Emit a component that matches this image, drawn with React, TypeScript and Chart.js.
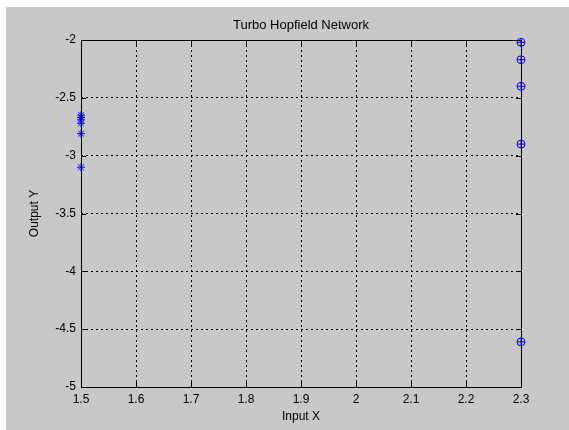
import React, { useEffect, useRef } from "react";
import { Chart, registerables } from "chart.js";

Chart.register(...registerables);

// Network outputs recorded for the two input settings
const inputLow = 1.5;
const inputHigh = 2.3;
const outputsAtLow = [-2.65, -2.67, -2.69, -2.72, -2.81, -3.1];
const outputsAtHigh = [-2.02, -2.17, -2.4, -2.9, -4.61];

// Axis ticks
const xTicks = [1.5, 1.6, 1.7, 1.8, 1.9, 2, 2.1, 2.2, 2.3];
const yTicks = [-5, -4.5, -4, -3.5, -3, -2.5, -2];

const titleText = "Turbo Hopfield Network";
const xLabel = "Input X";
const yLabel = "Output Y";

const FONT = "'Liberation Sans', Arial, sans-serif";
const BLUE = "#0000ff";

// Frame, inward tick marks and titles in the style of a MATLAB axes
const framePlugin = {
  id: "matlabFrame",
  afterDatasetsDraw(chart: any) {
    const { ctx, chartArea, scales } = chart;
    const { left, right, top, bottom } = chartArea;
    const tickLen = 5;
    ctx.save();
    ctx.strokeStyle = "#000";
    ctx.lineWidth = 1;
    ctx.setLineDash([]);
    ctx.beginPath();
    for (const v of xTicks) {
      const x = Math.round(scales.x.getPixelForValue(v)) + 0.5;
      ctx.moveTo(x, bottom);
      ctx.lineTo(x, bottom - tickLen);
      ctx.moveTo(x, top);
      ctx.lineTo(x, top + tickLen);
    }
    for (const v of yTicks) {
      const y = Math.round(scales.y.getPixelForValue(v)) + 0.5;
      ctx.moveTo(left, y);
      ctx.lineTo(left + tickLen, y);
      ctx.moveTo(right, y);
      ctx.lineTo(right - tickLen, y);
    }
    ctx.stroke();
    ctx.strokeRect(Math.round(left) + 0.5, Math.round(top) + 0.5, Math.round(right - left), Math.round(bottom - top));

    ctx.fillStyle = "#000";
    ctx.textAlign = "center";
    ctx.textBaseline = "middle";
    const cx = (left + right) / 2;
    ctx.font = `13px ${FONT}`;
    ctx.fillText(titleText, cx, 18);
    ctx.font = `12px ${FONT}`;
    ctx.fillText(xLabel, cx, 410);
    ctx.translate(29, (top + bottom) / 2);
    ctx.rotate(-Math.PI / 2);
    ctx.fillText(yLabel, 0, 0);
    ctx.restore();
  },
};

export default function App() {
  const canvasRef = useRef<HTMLCanvasElement | null>(null);

  useEffect(() => {
    const canvas = canvasRef.current;
    if (!canvas) return;

    const highPoints = outputsAtHigh.map((y) => ({ x: inputHigh, y }));
    const lowPoints = outputsAtLow.map((y) => ({ x: inputLow, y }));

    const chart = new Chart(canvas, {
      type: "scatter",
      data: {
        datasets: [
          {
            data: lowPoints,
            pointStyle: "star",
            radius: 4,
            borderColor: BLUE,
            backgroundColor: BLUE,
            borderWidth: 1,
          },
          {
            data: highPoints,
            pointStyle: "circle",
            radius: 4,
            borderColor: BLUE,
            backgroundColor: "rgba(0,0,0,0)",
            borderWidth: 1,
          },
          {
            data: highPoints,
            pointStyle: "cross",
            radius: 4,
            borderColor: BLUE,
            backgroundColor: BLUE,
            borderWidth: 1,
          },
        ],
      },
      options: {
        responsive: false,
        animation: false,
        devicePixelRatio: 1,
        clip: false,
        layout: { padding: { left: 0, top: 33, right: 48, bottom: 0 } },
        plugins: {
          legend: { display: false },
          tooltip: { enabled: false },
          title: { display: false },
        },
        scales: {
          x: {
            type: "linear",
            min: 1.5,
            max: 2.3,
            afterBuildTicks: (scale: any) => {
              scale.ticks = xTicks.map((value) => ({ value }));
            },
            afterFit: (scale: any) => {
              scale.height = 43;
            },
            ticks: {
              color: "#000",
              font: { family: FONT, size: 12 },
              padding: 5,
              maxRotation: 0,
              autoSkip: false,
              callback: (v: any) => String(Number(v.toFixed ? v.toFixed(1) : v)),
            },
            grid: { color: "#000", drawTicks: false, lineWidth: 1 },
            border: { display: false, dash: [2, 3] },
          },
          y: {
            type: "linear",
            min: -5,
            max: -2,
            afterBuildTicks: (scale: any) => {
              scale.ticks = yTicks.map((value) => ({ value }));
            },
            afterFit: (scale: any) => {
              scale.width = 75;
            },
            ticks: {
              color: "#000",
              font: { family: FONT, size: 12 },
              padding: 5,
              autoSkip: false,
              callback: (v: any) => String(Number(v.toFixed ? v.toFixed(1) : v)),
            },
            grid: { color: "#000", drawTicks: false, lineWidth: 1 },
            border: { display: false, dash: [2, 3] },
          },
        },
      },
      plugins: [framePlugin],
    });

    return () => chart.destroy();
  }, []);

  return (
    <div
      style={{
        position: "absolute",
        left: 6,
        top: 7,
        width: 563,
        height: 423,
        background: "#c8c8c8",
      }}
    >
      <canvas ref={canvasRef} width={563} height={423} style={{ display: "block" }} />
    </div>
  );
}
